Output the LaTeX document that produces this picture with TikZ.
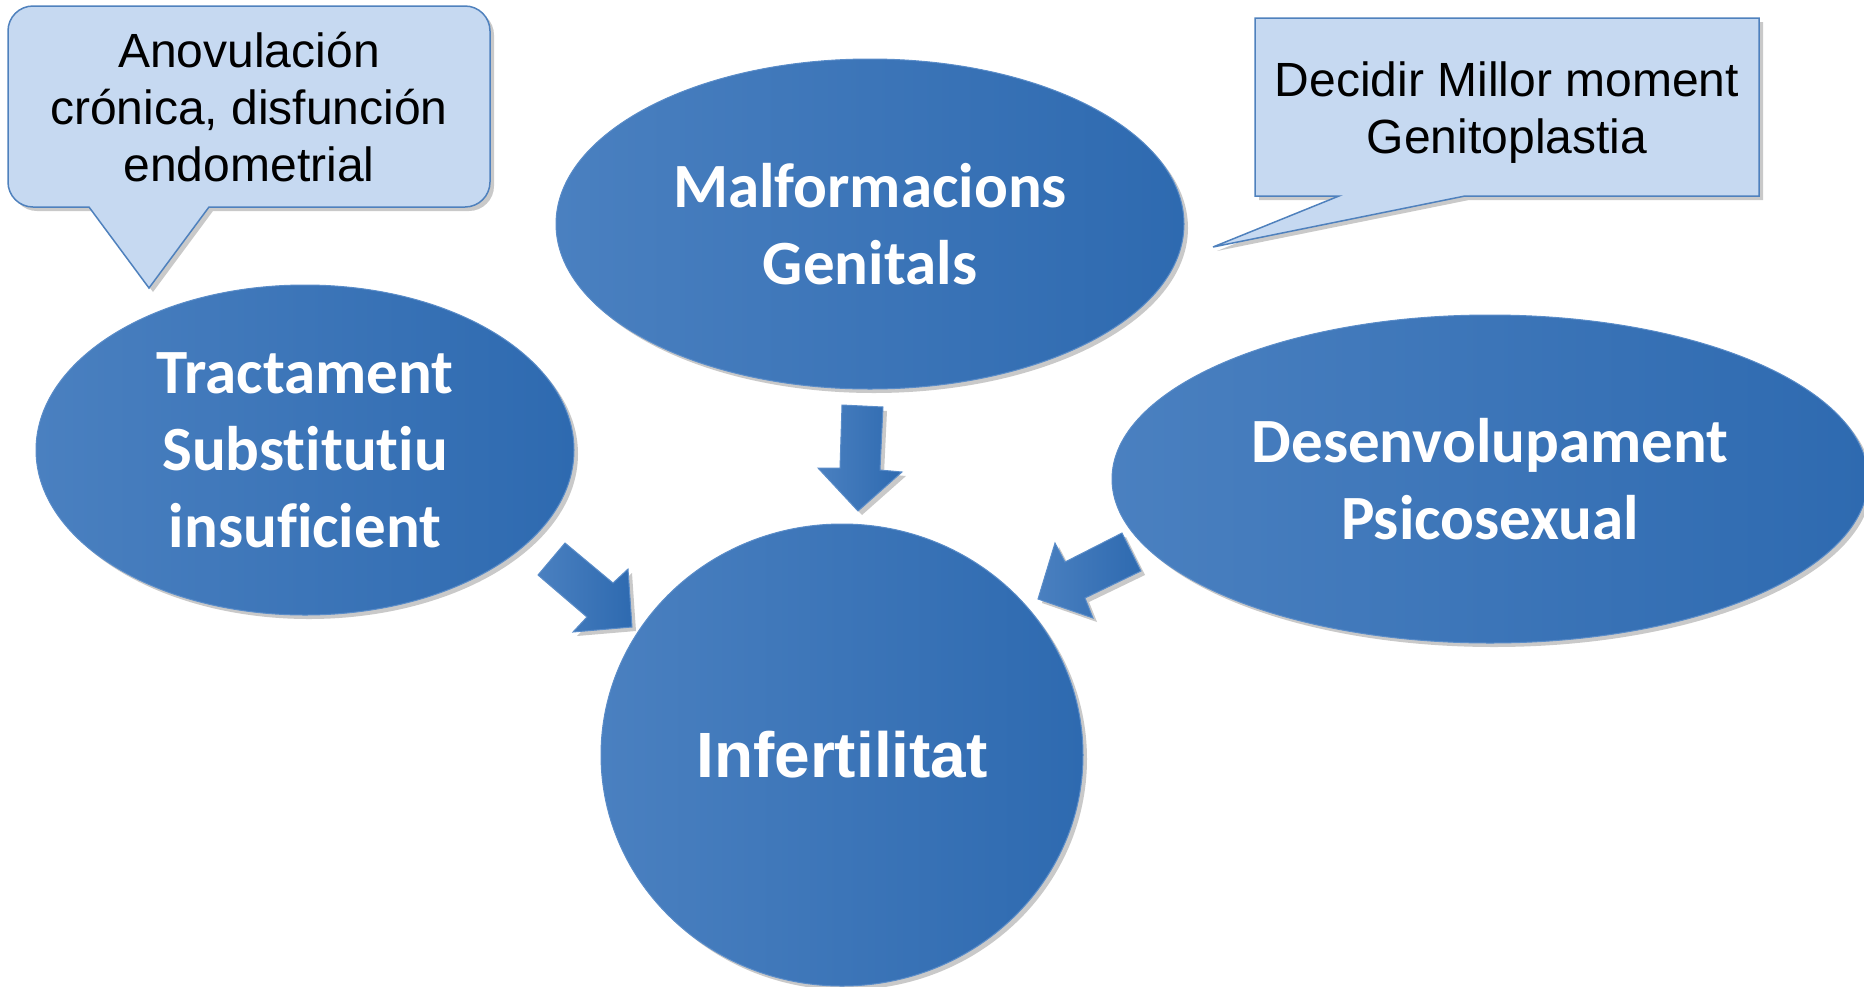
\documentclass[tikz,border=0pt]{standalone}
\usepackage{fontspec}
\newfontfamily\carlito[Ligatures={NoCommon,NoContextual,NoRequired},Contextuals={NoAlternate}]{Carlito}
\newfontfamily\arialf{Liberation Sans}
\usetikzlibrary{shapes.geometric,shadows}
\definecolor{blueL}{RGB}{74,128,192}
\definecolor{blueM}{RGB}{56,121,200}
\definecolor{blueR}{RGB}{46,106,176}
\definecolor{blueEdge}{RGB}{90,140,200}
\definecolor{calloutFill}{RGB}{198,217,241}
\definecolor{calloutEdge}{RGB}{79,129,189}
\begin{document}
\begin{tikzpicture}[x=1pt,y=-1pt,
  softshadow/.style={drop shadow={shadow xshift=4pt, shadow yshift=-4pt, opacity=0.3, fill=black!70}},
  bubble/.style={ellipse, inner sep=0pt, left color=blueL, middle color=blueM, right color=blueR,
    draw=blueEdge, line width=1pt, text=white, align=center,
    font=\carlito\bfseries\fontsize{63}{77}\selectfont, softshadow},
  blockarrow/.style={left color=blueL, middle color=blueM, right color=blueR, draw=blueEdge, line width=1pt, softshadow},
  callout/.style={fill=calloutFill, draw=calloutEdge, line width=1.5pt, softshadow},
  callouttext/.style={inner sep=0pt, align=center, text=black, font=\arialf\fontsize{48}{57}\selectfont}
]
\useasboundingbox (0,0) rectangle (1864,986);

% callouts
\path[callout] (8,106) [rounded corners=25] -- (8,6) -- (490,6) -- (490,207) [sharp corners] -- (209,207) -- (149,288) -- (89,207) [rounded corners=25] -- (8,207) -- cycle;
\node[callouttext] (anov) at (249,107) {Anovulación\\crónica, disfunción\\endometrial};

\path[callout] (1255,18) -- (1759,18) -- (1759,196) -- (1465,196) -- (1213,247) -- (1339,196) -- (1255,196) -- cycle;
\node[callouttext] (decidir) at (1507,113) {Decidir Millor moment\\Genitoplastia};

% ellipses
\node[bubble, minimum width=628pt, minimum height=330pt] (malf) at (870,224) {Malformacions\\Genitals};
\node[bubble, minimum width=538pt, minimum height=330pt] (tract) at (305,450) {Tractament\\Substitutiu\\insuficient};
\node[bubble, minimum width=756pt, minimum height=328pt] (desen) at (1490,479) {Desenvolupament\\Psicosexual};
\node[bubble, minimum width=482pt, minimum height=462pt, font=\arialf\bfseries\fontsize{64}{77}\selectfont] (infert) at (842,755) {Infertilitat};

% block arrows
\path[blockarrow] (842,405) -- (883,407) -- (880,470) -- (902,472) -- (858,511) -- (818,468) -- (840,468) -- cycle;
\path[blockarrow] (565,543) -- (613,583) -- (628,569) -- (632,627) -- (573,632) -- (587,617) -- (538,575) -- cycle;
\path[blockarrow] (1122,533) -- (1065,562) -- (1055,543) -- (1038,599) -- (1093,618) -- (1085,598) -- (1141,571) -- cycle;
\end{tikzpicture}
\end{document}
